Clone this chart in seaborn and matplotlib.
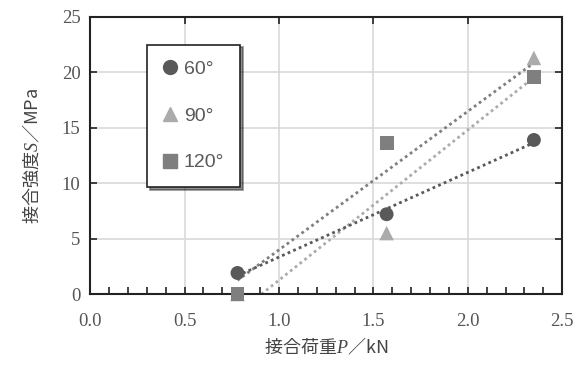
import numpy as np
import pandas as pd
import matplotlib
matplotlib.use("Agg")
import matplotlib.pyplot as plt
from matplotlib.ticker import MultipleLocator
from matplotlib.lines import Line2D
import seaborn as sns

# 接合荷重 P [kN] と 接合強度 S [MPa]
angles = ["60°", "90°", "120°"]
load_p = [0.78, 1.57, 2.35]
s_60 = [1.9, 7.2, 13.9]
s_90 = [0.0, 5.5, 21.3]
s_120 = [0.0, 13.6, 19.6]

colors = {"60°": "#595959", "90°": "#ababab", "120°": "#7f7f7f"}
markers = {"60°": "o", "90°": "^", "120°": "s"}

df = pd.DataFrame({
    "P": load_p * 3,
    "S": s_60 + s_90 + s_120,
    "angle": [a for a in angles for _ in load_p],
})

sns.set_theme(style="white")
plt.rcParams["font.family"] = ["Noto Sans CJK JP", "DejaVu Sans"]
plt.rcParams["mathtext.fontset"] = "custom"
plt.rcParams["mathtext.rm"] = "Noto Sans CJK JP"
plt.rcParams["mathtext.it"] = "Liberation Serif:italic"

fig = plt.figure(figsize=(5.82, 3.68), dpi=100)
ax = fig.add_axes([0.155, 0.201, 0.811, 0.753])

# trend lines (linear fit over data range)
for a in ["90°", "120°", "60°"]:
    sub = df[df["angle"] == a]
    sns.regplot(data=sub, x="P", y="S", ax=ax, scatter=False, ci=None, truncate=True,
                line_kws=dict(color=colors[a], lw=2, ls=(0, (1, 1.2)), zorder=2))

for a in ["60°", "90°", "120°"]:
    sub = df[df["angle"] == a]
    sns.scatterplot(data=sub, x="P", y="S", ax=ax, color=colors[a], marker=markers[a],
                    s=100 if a != "90°" else 110, edgecolor="none", zorder=3, legend=False,
                    clip_on=False)

ax.set_xlim(0, 2.5)
ax.set_ylim(0, 25)
ax.xaxis.set_major_locator(MultipleLocator(0.5))
ax.xaxis.set_minor_locator(MultipleLocator(0.1))
ax.yaxis.set_major_locator(MultipleLocator(5))
ax.grid(True, which="major", color="#d9d9d9", lw=1.2)
ax.set_axisbelow(True)

for sp in ax.spines.values():
    sp.set_color("#222222")
    sp.set_linewidth(1.5)

ax.tick_params(which="major", direction="in", length=5, width=1.2, color="#222222",
               top=True, right=True, bottom=True, left=True, labelsize=13.5,
               labelcolor="#555555")
ax.tick_params(axis="x", which="major", pad=14)
ax.tick_params(axis="y", which="major", pad=7)
ax.tick_params(which="minor", direction="in", length=5, width=1.2, color="#222222",
               bottom=True, top=False)
ax.set_xticklabels([f"{v:.1f}" for v in ax.get_xticks()], family="Liberation Serif")
ax.set_yticklabels([f"{v:.0f}" for v in ax.get_yticks()], family="Liberation Serif")

ax.set_xlabel("接合荷重$P$／kN", fontsize=13, color="#444444", labelpad=4)
ax.set_ylabel("接合強度$S$／MPa", fontsize=13, color="#444444", labelpad=14)

handles = [Line2D([], [], ls="none", marker=markers[a], color=colors[a], markersize=10)
           for a in angles]
leg = ax.legend(handles, angles, loc="upper left", bbox_to_anchor=(0.12, 0.9),
                frameon=True, fancybox=False, shadow={"color": "#222222"},
                edgecolor="#222222", framealpha=1, labelspacing=1.5, borderpad=0.8,
                handlelength=0.8, handletextpad=0.3, borderaxespad=0,
                prop={"family": "Liberation Sans", "size": 14})
leg.get_frame().set_linewidth(1.2)
for t in leg.get_texts():
    t.set_color("#595959")

fig.savefig("out.png", dpi=100)
